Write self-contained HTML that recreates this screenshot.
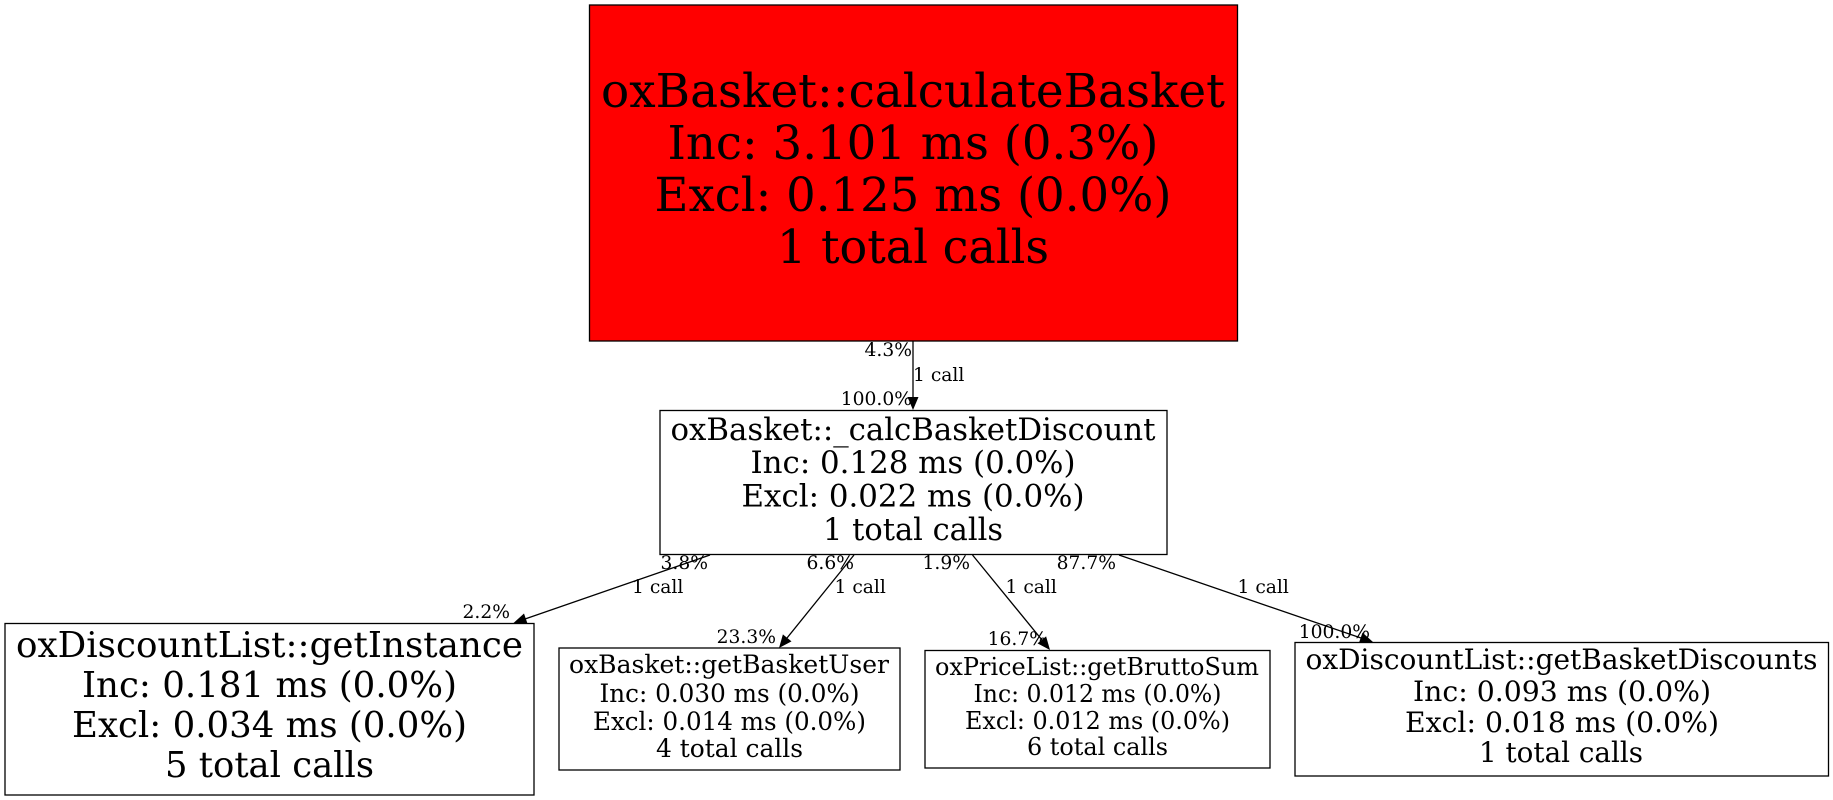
<!DOCTYPE html>
<html><head><meta charset="utf-8"><style>
html,body{margin:0;padding:0;background:#fff}
svg{display:block}
text{font-family:"DejaVu Serif",serif;fill:#000;text-anchor:middle}
.s{text-anchor:start}
.e{text-anchor:end}
rect{stroke:#000;stroke-width:1.3;fill:none}
line{stroke:#000;stroke-width:1.3}
</style></head><body>
<svg width="1833" height="800" viewBox="0 0 1833 800" xmlns="http://www.w3.org/2000/svg">
<rect width="1833" height="800" style="fill:#fff;stroke:none"/>
<rect x="589.5" y="5" width="648" height="336" style="fill:#f00"/>
<g font-size="46.8">
<text x="913" y="107" textLength="624" lengthAdjust="spacingAndGlyphs">oxBasket::calculateBasket</text>
<text x="913" y="159" textLength="491" lengthAdjust="spacingAndGlyphs">Inc: 3.101 ms (0.3%)</text>
<text x="913" y="211" textLength="517" lengthAdjust="spacingAndGlyphs">Excl: 0.125 ms (0.0%)</text>
<text x="913" y="263" textLength="272" lengthAdjust="spacingAndGlyphs">1 total calls</text></g>

<rect x="660" y="410.5" width="507" height="144"/>
<g font-size="30.5">
<text x="913" y="440" textLength="485" lengthAdjust="spacingAndGlyphs">oxBasket::_calcBasketDiscount</text>
<text x="913" y="473" textLength="325" lengthAdjust="spacingAndGlyphs">Inc: 0.128 ms (0.0%)</text>
<text x="913" y="506.5" textLength="343" lengthAdjust="spacingAndGlyphs">Excl: 0.022 ms (0.0%)</text>
<text x="913" y="540" textLength="180" lengthAdjust="spacingAndGlyphs">1 total calls</text></g>

<rect x="5" y="623.5" width="529" height="171.5"/>
<g font-size="35.5">
<text x="269.5" y="657" textLength="507" lengthAdjust="spacingAndGlyphs">oxDiscountList::getInstance</text>
<text x="269.5" y="697" textLength="375" lengthAdjust="spacingAndGlyphs">Inc: 0.181 ms (0.0%)</text>
<text x="269.5" y="737" textLength="395" lengthAdjust="spacingAndGlyphs">Excl: 0.034 ms (0.0%)</text>
<text x="269.5" y="777" textLength="209" lengthAdjust="spacingAndGlyphs">5 total calls</text></g>

<rect x="559" y="648" width="341" height="122"/>
<g font-size="24.8">
<text x="729" y="673" textLength="320" lengthAdjust="spacingAndGlyphs">oxBasket::getBasketUser</text>
<text x="729.5" y="702" textLength="260" lengthAdjust="spacingAndGlyphs">Inc: 0.030 ms (0.0%)</text>
<text x="729.5" y="730" textLength="273" lengthAdjust="spacingAndGlyphs">Excl: 0.014 ms (0.0%)</text>
<text x="729.5" y="757" textLength="147" lengthAdjust="spacingAndGlyphs">4 total calls</text></g>

<rect x="925" y="650.5" width="345" height="117.5"/>
<g font-size="23.8">
<text x="1097" y="675" textLength="324" lengthAdjust="spacingAndGlyphs">oxPriceList::getBruttoSum</text>
<text x="1097.5" y="702" textLength="248" lengthAdjust="spacingAndGlyphs">Inc: 0.012 ms (0.0%)</text>
<text x="1097.5" y="729" textLength="265" lengthAdjust="spacingAndGlyphs">Excl: 0.012 ms (0.0%)</text>
<text x="1097.5" y="755" textLength="141" lengthAdjust="spacingAndGlyphs">6 total calls</text></g>

<rect x="1295" y="642.5" width="533.5" height="133.5"/>
<g font-size="28">
<text x="1561.5" y="669" textLength="512" lengthAdjust="spacingAndGlyphs">oxDiscountList::getBasketDiscounts</text>
<text x="1562" y="701" textLength="298" lengthAdjust="spacingAndGlyphs">Inc: 0.093 ms (0.0%)</text>
<text x="1562" y="732" textLength="314" lengthAdjust="spacingAndGlyphs">Excl: 0.018 ms (0.0%)</text>
<text x="1561" y="762" textLength="164" lengthAdjust="spacingAndGlyphs">1 total calls</text></g>

<line x1="913" y1="341" x2="913" y2="398"/>
<polygon points="907.5,397 918.5,397 913,410"/>
<line x1="710" y1="555" x2="525" y2="619"/>
<polygon points="527.6,623.9 524,613.5 513.5,623"/>
<line x1="854" y1="555" x2="787" y2="638"/>
<polygon points="791.5,641.4 782.9,634.4 779,648"/>
<line x1="972.5" y1="555" x2="1042" y2="640"/>
<polygon points="1046.1,636.4 1037.5,643.4 1050,650"/>
<line x1="1119" y1="555" x2="1361" y2="638"/>
<polygon points="1362.5,632.6 1358.9,643 1373,642"/>

<g font-size="18.7">
<text class="e" x="912" y="356">4.3%</text>
<text class="s" x="913" y="381">1 call</text>
<text class="e" x="912" y="405">100.0%</text>
<text class="e" x="708" y="569">3.8%</text>
<text class="s" x="632" y="593">1 call</text>
<text class="e" x="510" y="618">2.2%</text>
<text class="e" x="854" y="569">6.6%</text>
<text class="s" x="834.5" y="593">1 call</text>
<text class="e" x="776" y="643">23.3%</text>
<text class="e" x="970" y="569">1.9%</text>
<text class="s" x="1005.5" y="593">1 call</text>
<text class="e" x="1047" y="645">16.7%</text>
<text class="e" x="1116" y="569">87.7%</text>
<text class="s" x="1237.5" y="593">1 call</text>
<text class="e" x="1370" y="638">100.0%</text>
</g>
</svg>
</body></html>
